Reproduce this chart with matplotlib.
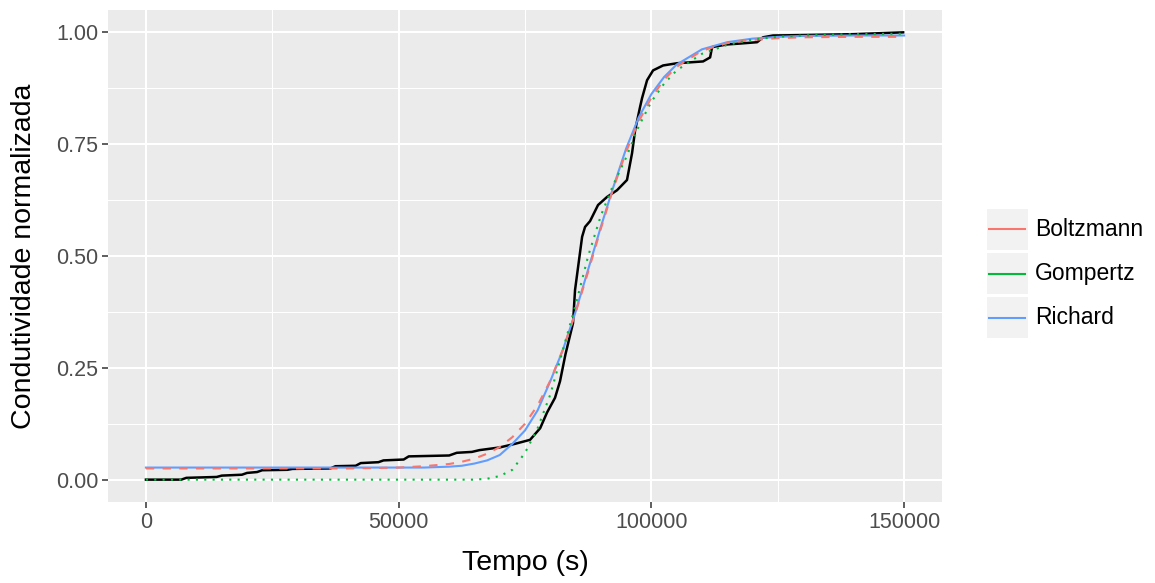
import matplotlib
matplotlib.use("Agg")
import matplotlib.pyplot as plt
from matplotlib.patches import Rectangle
from matplotlib.lines import Line2D

plt.rcParams['font.family'] = ['Liberation Sans', 'DejaVu Sans']

# Experimental data (black)
exp_t = [0, 7000, 8000, 14000, 15000, 19000, 20000, 22000, 23000, 28000, 29000, 36500, 37500,
         41500, 42500, 46000, 47000, 51000, 52000, 60000, 61500, 64500, 66000, 70000, 73000,
         76000, 78000, 79360, 80940, 81930, 83000, 84500, 84900, 85500, 86300, 86880, 87870,
         89450, 91230, 93200, 95180, 96180, 96770, 97760, 98160, 99150, 100340, 102320, 105090,
         107660, 110230, 111620, 112010, 114980, 117550, 120920, 122100, 124080, 130000, 140000,
         149810]
exp_y = [0.0, 0.0, 0.004, 0.006, 0.009, 0.011, 0.015, 0.017, 0.021, 0.022, 0.024, 0.025, 0.030,
         0.031, 0.037, 0.039, 0.043, 0.045, 0.052, 0.054, 0.060, 0.062, 0.066, 0.072, 0.080,
         0.089, 0.115, 0.150, 0.183, 0.220, 0.280, 0.350, 0.424, 0.475, 0.543, 0.565, 0.578,
         0.614, 0.632, 0.647, 0.670, 0.730, 0.780, 0.833, 0.853, 0.893, 0.915, 0.926, 0.931,
         0.933, 0.935, 0.944, 0.967, 0.973, 0.975, 0.978, 0.989, 0.993, 0.994, 0.996, 1.000]

# Fitted models
fit_t = [0, 20000, 40000, 50000, 55000, 60000, 62500, 65000, 67500, 70000, 72500, 75000, 77500,
         80000, 82500, 85000, 87500, 90000, 92500, 95000, 97500, 100000, 102500, 105000, 110000,
         115000, 120000, 125000, 130000, 140000, 150000]
boltzmann = [0.025, 0.025, 0.025, 0.027, 0.030, 0.035, 0.040, 0.047, 0.058, 0.073, 0.095, 0.125,
             0.166, 0.221, 0.291, 0.373, 0.465, 0.561, 0.652, 0.733, 0.801, 0.854, 0.894, 0.923,
             0.959, 0.976, 0.983, 0.987, 0.989, 0.990, 0.990]
gompertz = [0.0, 0.0, 0.0, 0.0, 0.0, 0.0, 0.0, 0.0, 0.002, 0.008, 0.022, 0.060, 0.115, 0.190,
            0.290, 0.390, 0.500, 0.590, 0.660, 0.720, 0.790, 0.845, 0.885, 0.915, 0.952, 0.972,
            0.984, 0.990, 0.993, 0.996, 0.997]
richard = [0.027, 0.027, 0.027, 0.027, 0.027, 0.029, 0.031, 0.036, 0.043, 0.055, 0.080, 0.110,
           0.155, 0.220, 0.290, 0.375, 0.470, 0.565, 0.655, 0.740, 0.810, 0.862, 0.900, 0.928,
           0.962, 0.978, 0.986, 0.990, 0.992, 0.993, 0.993]

x_ticks = [0, 50000, 100000, 150000]
x_minor = [25000, 75000, 125000]
y_ticks = [0.0, 0.25, 0.5, 0.75, 1.0]
y_minor = [0.125, 0.375, 0.625, 0.875]
x_labels = ['0', '50000', '100000', '150000']
y_labels = ['0.00', '0.25', '0.50', '0.75', '1.00']

series_names = ['Boltzmann', 'Gompertz', 'Richard']
series_colors = ['#F8766D', '#00BA38', '#619CFF']

W, H = 1155, 583
fig = plt.figure(figsize=(W / 100, H / 100), dpi=100)
L, R, T, B = 108, 942, 10, 502
ax = fig.add_axes([L / W, 1 - B / H, (R - L) / W, (B - T) / H])
ax.set_facecolor('#EBEBEB')
for s in ax.spines.values():
    s.set_visible(False)
ax.set_xlim(-7500, 157500)
ax.set_ylim(-0.05, 1.05)
ax.set_xticks(x_ticks)
ax.set_xticklabels(x_labels)
ax.set_xticks(x_minor, minor=True)
ax.set_yticks(y_ticks)
ax.set_yticklabels(y_labels)
ax.set_yticks(y_minor, minor=True)
ax.set_axisbelow(True)
ax.grid(which='major', color='white', lw=1.5)
ax.grid(which='minor', color='white', lw=0.75)
ax.tick_params(which='major', length=4, width=1.1, color='#333333', labelsize=15.5,
               labelcolor='#4D4D4D', pad=3)
ax.tick_params(which='minor', length=0)

ax.plot(exp_t, exp_y, color='black', lw=1.8, zorder=3)
ax.plot(fit_t, richard, color=series_colors[2], lw=1.5, ls='-', zorder=4)
ax.plot(fit_t, boltzmann, color=series_colors[0], lw=1.5, ls=(0, (4, 4)), zorder=5)
ax.plot(fit_t, gompertz, color=series_colors[1], lw=1.5, ls=(0, (1, 3)), zorder=6)

fig.text(525 / W, 1 - 563 / H, 'Tempo (s)', ha='center', va='center', fontsize=20.5)
fig.text(24 / W, 1 - 256 / H, 'Condutividade normalizada', ha='center', va='center',
         rotation=90, fontsize=20.5)

# Legend
key_tops = [209, 253, 297]
for name, col, top in zip(series_names, series_colors, key_tops):
    fig.add_artist(Rectangle((987 / W, 1 - (top + 41) / H), 41 / W, 41 / H,
                             transform=fig.transFigure, facecolor='#F2F2F2', edgecolor='none'))
    yc = 1 - (top + 20.5) / H
    fig.add_artist(Line2D([989 / W, 1025 / W], [yc, yc], transform=fig.transFigure,
                          color=col, lw=1.5))
    fig.text(1035 / W, yc, name, ha='left', va='center', fontsize=16.5, color='black')

fig.savefig('out.png', dpi=100)
